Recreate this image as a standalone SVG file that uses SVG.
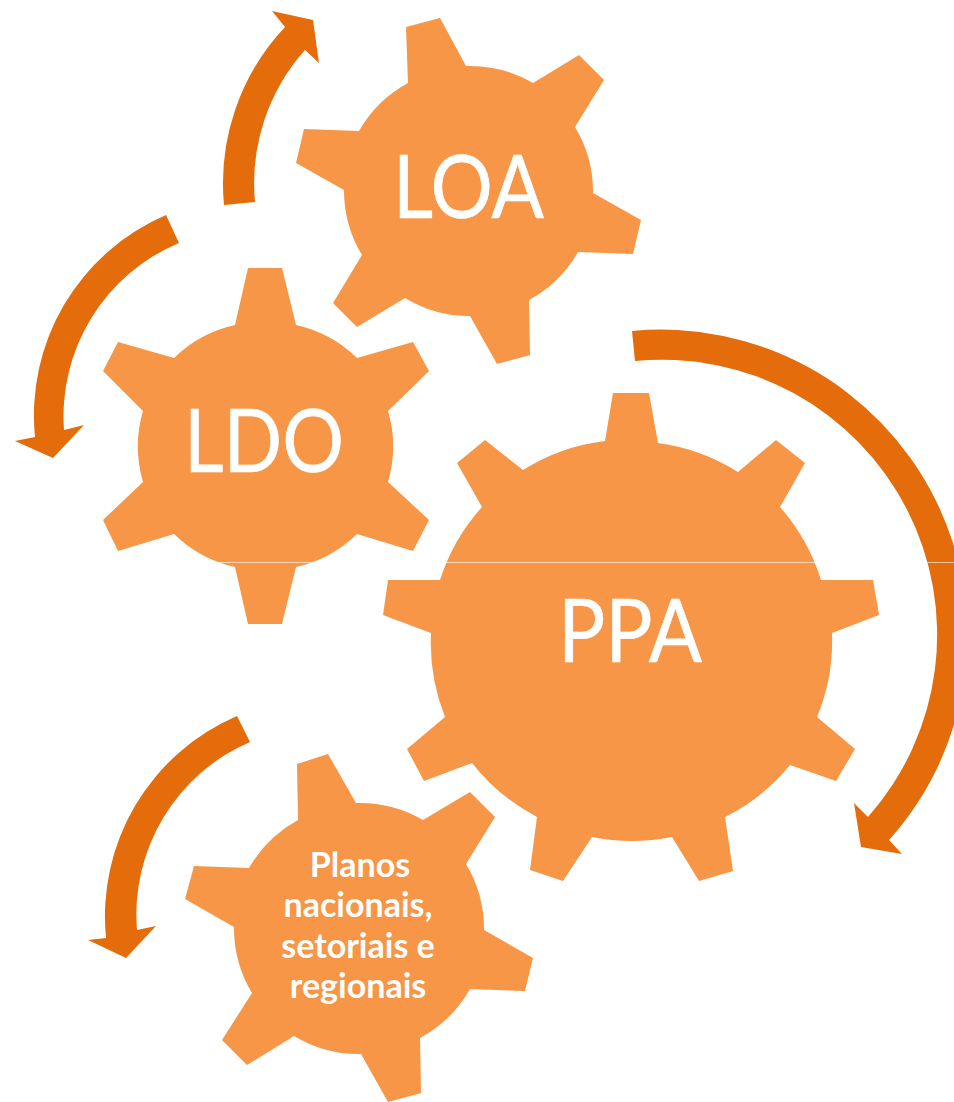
<svg xmlns="http://www.w3.org/2000/svg" width="954" height="1102" viewBox="0 0 954 1102">
<style>
.gear{fill:#F79646}
.arrow{fill:#E46C0A}
text{fill:#fff;font-family:"Lato","Open Sans",sans-serif;text-anchor:middle}
.big{font-size:87px;font-weight:400;stroke:#fff;stroke-width:.6}
.small{font-size:34px;font-weight:700}
.seam{stroke:#fff;stroke-opacity:.6;stroke-width:1}
</style>
<rect width="954" height="1102" fill="#fff"/>
<g id="connectors">
<path class="arrow" d="M224,205A228,228 0 0 1 285,27L272,11L313,20L319,63L305,50A200,200 0 0 0 255,202Z"/>
<path class="arrow" d="M166,215A218,218 0 0 0 35,437L15,441L53,458L84,425L64,430A188,188 0 0 1 179,243Z"/>
<path class="arrow" d="M632,331A306,306 0 0 1 889,840L902,854L861,847L854,803L868,817A275,275 0 0 0 635,361Z"/>
<path class="arrow" d="M237,716A218,218 0 0 0 106,938L88,940L126,958L156,926L137,930A188,188 0 0 1 250,742Z"/>
</g>
<g id="loa">
<path class="gear" d="M406,27L440,18L466,66A125,125 0 0 1 533,83L579,55L604,80L575,127A125,125 0 0 1 593,193L641,220L633,254L578,252A125,125 0 0 1 529,300L530,355L497,364L470,316A125,125 0 0 1 405,298L357,327L333,303L362,255A125,125 0 0 1 344,190L296,163L304,129L359,131A125,125 0 0 1 408,83Z"/>
<text class="big" x="468.5" y="218" textLength="151" lengthAdjust="spacingAndGlyphs">LOA</text>
</g>
<g id="ldo">
<path class="gear" d="M248,268L282,268L296,325A126,126 0 0 1 357,358L413,342L429,371L388,411A126,126 0 0 1 388,482L429,520L413,551L357,534A126,126 0 0 1 296,567L282,624L248,624L235,567A126,126 0 0 1 174,534L118,551L103,520L143,482A126,126 0 0 1 143,411L103,371L118,342L174,358A126,126 0 0 1 235,325Z"/>
<text class="big" x="264" y="472" textLength="160" lengthAdjust="spacingAndGlyphs">LDO</text>
</g>
<g id="ppa">
<path class="gear" d="M613,393L649,393L658,443A200,200 0 0 1 738,472L776,440L805,463L780,507A200,200 0 0 1 821,580L873,580L879,615L832,633A200,200 0 0 1 817,717L855,749L836,781L790,765A200,200 0 0 1 725,817L733,871L699,881L672,837A200,200 0 0 1 592,837L563,881L530,870L537,817A200,200 0 0 1 472,763L424,781L407,749L445,717A200,200 0 0 1 431,633L383,615L388,580L440,580A200,200 0 0 1 482,507L457,463L485,440L523,470A200,200 0 0 1 605,441Z"/>
<text class="big" x="630" y="662" textLength="144" lengthAdjust="spacingAndGlyphs">PPA</text>
</g>
<g id="planos">
<path class="gear" d="M297,764L328,754L356,803A126,126 0 0 1 423,820L470,792L495,817L466,864A126,126 0 0 1 484,930L533,958L525,991L470,989A126,126 0 0 1 420,1038L421,1093L388,1102L361,1054A126,126 0 0 1 294,1036L247,1065L222,1040L252,993A126,126 0 0 1 234,927L185,899L194,866L249,868A126,126 0 0 1 298,820Z"/>
<text class="small" x="360" y="877">Planos</text>
<text class="small" x="358" y="917">nacionais,</text>
<text class="small" x="358" y="958">setoriais e</text>
<text class="small" x="358" y="998">regionais</text>
</g>
<line class="seam" x1="0" y1="562.5" x2="954" y2="562.5"/>
</svg>
